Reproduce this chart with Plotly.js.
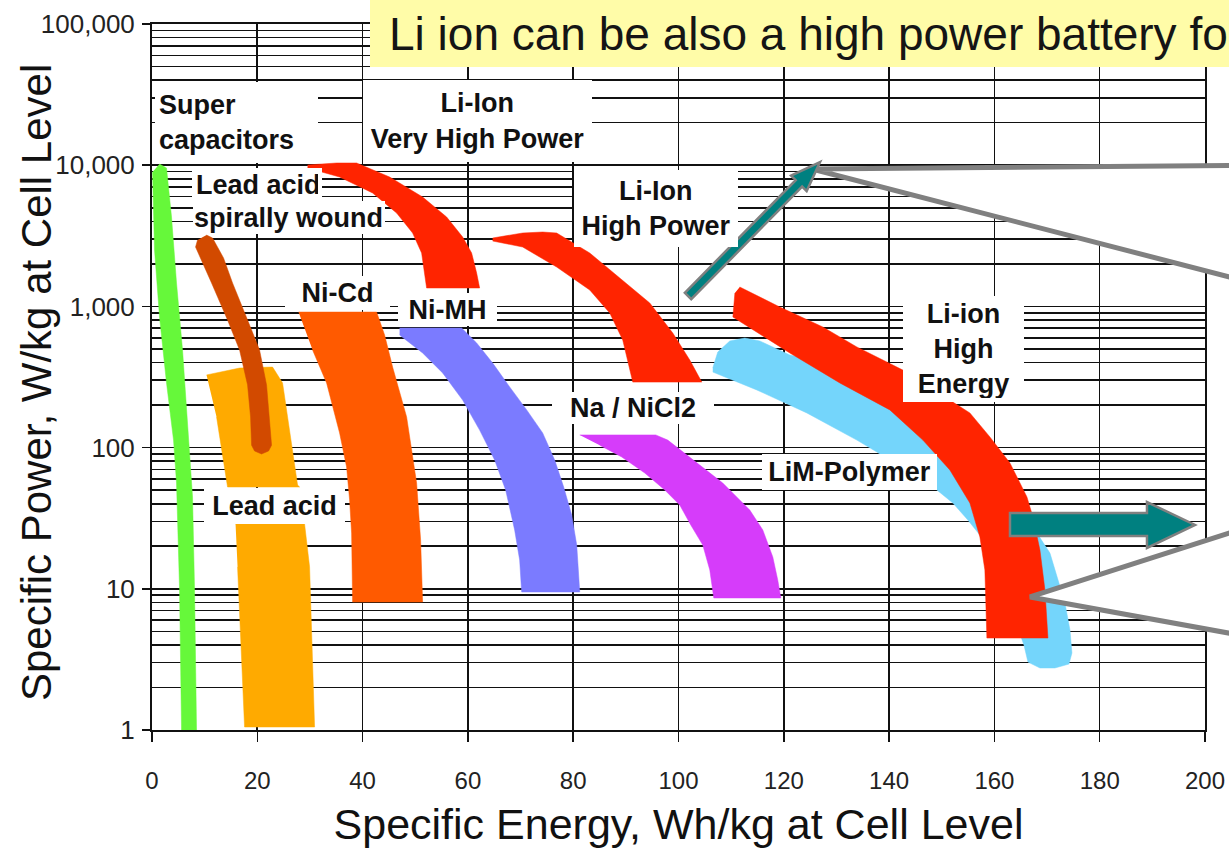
<!DOCTYPE html>
<html><head><meta charset="utf-8">
<script src="https://cdn.plot.ly/plotly-3.0.1.min.js"></script>
<style>html,body{margin:0;padding:0;background:#fff}#chart{width:1229px;height:848px}</style>
</head><body><div id="chart"></div>
<script>
// ---- Ragone regions (Specific Energy Wh/kg, Specific Power W/kg), outlines ----
const superCapX = [1.43, 2.76, 3.71, 4.66, 5.80, 7.13, 7.70, 8.08, 8.46, 5.61, 5.23, 4.66, 4.09, 2.76, 1.43, 0.48, 0.10];
const superCapY = [10197, 9555, 4297, 1465, 491, 96.2, 44.7, 9.97, 1, 1, 9.97, 56.1, 113, 287, 841, 2508, 8949];

const leadAcidX = [10.36, 16.63, 22.90, 24.80, 25.75, 27.65, 28.03, 14.35, 12.26, null, 15.87, 28.98, 29.93, 30.88, 17.58, 16.25];
const leadAcidY = [327, 366, 372, 287, 165, 54.3, 52.6, 52.6, 165, null, 28.8, 28.8, 14.3, 1.05, 1.05, 14.3];

const leadSpiralX = [10.36, 11.50, 13.59, 15.30, 18.15, 20.43, 21.76, 22.33, 22.71, 22.14, 20.81, 19.48, 18.91, 18.72, 18.15, 16.63, 14.35, 11.31, 9.41, 8.27, 8.65];
const leadSpiralY = [3204, 3051, 2202, 1465, 801, 491, 278, 165, 104, 94.6, 90.1, 94.6, 104, 165, 278, 491, 801, 1465, 2131, 2634, 2953];

const niCdX = [27.84, 42.66, 44.18, 45.70, 48.36, 50.26, 51.02, 51.40, 38.10, 37.91, 37.53, 36.96, 35.63, 33.16, 30.50];
const niCdY = [912, 912, 627, 372, 165, 56.1, 22.2, 8.06, 8.06, 24.8, 42.6, 72.9, 127, 287, 491];

const niMhX = [47.03, 58.81, 61.66, 64.70, 67.93, 71.16, 74.20, 76.48, 78.19, 79.71, 80.67, 81.24, 70.21, 69.83, 68.88, 67.17, 65.08, 62.23, 59.00, 55.20, 51.40, 47.03];
const niMhY = [703, 703, 551, 397, 269, 185, 127, 81.7, 52.6, 33.3, 20.4, 9.49, 9.49, 16.0, 26.1, 50.1, 81.7, 133, 217, 338, 468, 627];

const naNiCl2X = [81.24, 95.68, 97.96, 102.14, 108.41, 113.54, 116.01, 117.91, 118.86, 119.43, 106.70, 105.94, 104.61, 102.33, 100.24, 97.39, 93.59, 89.22, 85.04];
const naNiCl2Y = [123, 123, 113, 85.8, 56.1, 36.1, 26.1, 16.8, 11.5, 8.61, 8.61, 13.6, 20.4, 28.3, 39.2, 50.1, 66.1, 85.8, 104];

const limPolyX = [106.51, 107.46, 109.74, 112.59, 115.44, 121.14, 134.44, 143.94, 153.44, 161.05, 165.80, 168.08, 170.55, 172.07, 173.40, 174.35, 174.73, 174.16, 171.50, 168.65, 166.37, 165.61, 163.90, 162.00, 159.71, 157.24, 154.96, 152.11, 149.07, 142.99, 137.67, 133.87, 124.37, 114.87, 106.51];
const limPolyY = [366, 475, 569, 597, 569, 453, 354, 236, 133, 69.4, 39.2, 24.8, 17.9, 11.5, 7.93, 5.11, 3.51, 2.93, 2.75, 2.75, 3.03, 4.00, 6.01, 9.81, 16.0, 24.0, 30.7, 40.5, 50.1, 69.4, 93.1, 113, 176, 256, 343];

const liVhpX = [29.55, 35.06, 38.86, 45.13, 51.40, 55.96, 59.00, 60.71, 61.66, 62.23, 52.16, 51.78, 51.21, 49.50, 46.46, 41.90, 35.63, 29.55];
const liVhpY = [10032, 10367, 10367, 8249, 5953, 4297, 3101, 2389, 1724, 1350, 1350, 1724, 2389, 3310, 4586, 6356, 8249, 9555];

const liHpX = [64.70, 70.40, 74.20, 76.86, 83.14, 89.41, 94.54, 98.91, 102.14, 104.42, 91.31, 89.41, 86.94, 83.14, 76.86, 70.40, 64.70];
const liHpY = [3051, 3310, 3364, 3310, 2389, 1538, 1057, 648, 417, 291, 291, 578, 898, 1307, 1901, 2634, 2905];

const liHeX = [111.64, 119.24, 127.41, 133.87, 142.61, 147.74, 152.11, 155.34, 159.14, 162.95, 166.18, 167.32, 168.65, 169.60, 170.17, 158.57, 158.19, 157.24, 155.34, 151.54, 146.41, 140.14, 130.64, 121.14, 110.33, 110.71];
const liHeY = [1372, 990, 715, 516, 354, 278, 210, 176, 119, 77.8, 44.7, 32.2, 18.8, 9.81, 4.48, 4.48, 13.6, 23.3, 40.5, 69.4, 113, 185, 287, 468, 841, 1244];

// ---- axis ticks ----
const xTicks = [0, 20, 40, 60, 80, 100, 120, 140, 160, 180, 200];
const yTickVals = [1, 10, 100, 1000, 10000, 100000];
const yTickText = ['1', '10', '100', '1,000', '10,000', '100,000'];

// ---- labels: text, x (Wh/kg), y (W/kg) ----
const labelText = ['Super<br>capacitors', 'Lead acid', 'spirally wound', 'Li-Ion<br>Very High Power', 'Li-Ion<br>High Power',
  'Ni-Cd', 'Ni-MH', 'Na / NiCl2', 'LiM-Polymer', 'Li-ion<br>High<br>Energy', 'Lead acid'];
const labelX = [16.05, 19.94, 26.02, 61.76, 95.68, 35.15, 56.06, 91.31, 132.45, 154.11, 23.18];
const labelY = [20050, 7242, 4263, 20560, 4930, 1245, 951, 190.5, 67.1, 499, 38.5];

const titleText = 'Li ion can be also a high power battery fo';
const xTitle = 'Specific Energy, Wh/kg at Cell Level';
const yTitle = 'Specific Power, W/kg at Cell Level';

const FONT = 'Liberation Sans, Arial, sans-serif';
const RED = '#ff2400';

function region(x, y, color) {
  return {x: x, y: y, type: 'scatter', mode: 'lines', fill: 'toself', fillcolor: color,
    line: {color: color, width: 0.5}, hoverinfo: 'skip', showlegend: false};
}

const traces = [
  region(leadAcidX, leadAcidY, '#ffaa00'),
  region(leadSpiralX, leadSpiralY, '#d24a00'),
  region(superCapX, superCapY, '#66f83a'),
  region(niCdX, niCdY, '#ff5a00'),
  region(niMhX, niMhY, '#7b7bff'),
  region(naNiCl2X, naNiCl2Y, '#d63cfa'),
  region(limPolyX, limPolyY, '#74d5fb'),
  region(liVhpX, liVhpY, RED),
  region(liHpX, liHpY, RED),
  region(liHeX, liHeY, RED)
];

// plot-box pixel geometry (for decorative call-out shapes)
const PL = 152, PR = 1205, PT = 24, PB = 730;
const px = v => ((v - PL) / (PR - PL));
const py = v => ((PB - v) / (PB - PT));
const path = pts => 'M' + pts.map(p => px(p[0]).toFixed(4) + ',' + py(p[1]).toFixed(4)).join('L') + 'Z';

// label boxes (white, covering grid lines), sizes in px
const boxW = [155, 122, 190, 221, 156, 97, 91, 154, 167, 113, 133];
const boxH = [73, 25, 31, 74, 69, 26, 25, 24, 28, 98, 28];
const boxPad = [4, 4, 1, 4, 4, 4, 4, 4, 4, 4, 4];
const boxAlign = ['left', 'left', 'left', 'center', 'center', 'center', 'center', 'center', 'center', 'center', 'center'];

const annotations = labelText.map((t, i) => ({
  text: '<b>' + t + '</b>', x: labelX[i], y: Math.log10(labelY[i]), xref: 'x', yref: 'y',
  showarrow: false, bgcolor: '#ffffff', borderpad: boxPad[i], borderwidth: 0,
  width: boxW[i], height: boxH[i], align: boxAlign[i], valign: 'middle',
  font: {family: FONT, size: 27, color: '#111'}
}));

annotations.push({
  text: titleText, xref: 'paper', yref: 'paper', x: px(387), y: py(34), xanchor: 'left', yanchor: 'middle',
  showarrow: false, font: {family: FONT, size: 46, color: '#151515'}
});
annotations.push({
  text: yTitle, xref: 'paper', yref: 'paper', x: px(36), y: py(383), xanchor: 'center', yanchor: 'middle',
  textangle: -90, showarrow: false, font: {family: FONT, size: 42, color: '#111'}
});

const shapes = [
  {type: 'rect', xref: 'paper', yref: 'paper', x0: px(370), x1: px(1260), y0: py(67), y1: py(-5),
    fillcolor: '#fffca8', line: {width: 0}, layer: 'above'},
  {type: 'path', xref: 'paper', yref: 'paper', path: path([[812, 169], [1245, 165.5], [1245, 281]]),
    fillcolor: '#ffffff', line: {color: '#808080', width: 5}, layer: 'above'},
  {type: 'path', xref: 'paper', yref: 'paper', path: path([[1030, 597], [1245, 528], [1245, 636]]),
    fillcolor: '#ffffff', line: {color: '#808080', width: 5}, layer: 'above'},
  {type: 'path', xref: 'paper', yref: 'paper',
    path: path([[684.8, 292.8], [795.7, 180.2], [791.1, 175.7], [820, 162], [806.7, 191.1], [802.1, 186.6], [691.2, 299.2]]),
    fillcolor: '#008080', line: {color: '#808080', width: 2.5}, layer: 'above'},
  {type: 'path', xref: 'paper', yref: 'paper',
    path: path([[1010, 513], [1147, 513], [1147, 502], [1195, 525], [1147, 548], [1147, 536], [1010, 536]]),
    fillcolor: '#008080', line: {color: '#808080', width: 2.5}, layer: 'above'}
];

const layout = {
  width: 1229, height: 848,
  margin: {l: PL, r: 1229 - PR, t: PT, b: 848 - PB},
  paper_bgcolor: '#ffffff', plot_bgcolor: '#ffffff',
  showlegend: false, hovermode: false,
  font: {family: FONT, color: '#111'},
  xaxis: {
    range: [0, 200], tickvals: xTicks, ticks: 'outside', ticklen: 10, tickwidth: 1.5, tickcolor: '#111',
    showgrid: true, gridcolor: '#111', gridwidth: 1.6, zeroline: false,
    showline: true, linecolor: '#111', linewidth: 2, mirror: true,
    tickfont: {family: FONT, size: 24, color: '#222'}, ticklabelstandoff: 18,
    title: {text: xTitle, font: {family: FONT, size: 43, color: '#111'}, standoff: 17}
  },
  yaxis: {
    type: 'log', range: [0, 5], tickvals: yTickVals, ticktext: yTickText,
    ticks: 'outside', ticklen: 8, tickwidth: 1.5, tickcolor: '#111',
    showgrid: true, gridcolor: '#111', gridwidth: 1.6, zeroline: false,
    minor: {dtick: 'D1', showgrid: true, gridcolor: '#111', gridwidth: 1.6, ticks: ''},
    showline: true, linecolor: '#111', linewidth: 2, mirror: true,
    tickfont: {family: FONT, size: 26, color: '#222'}, ticklabelstandoff: 2
  },
  annotations: annotations,
  shapes: shapes
};

Plotly.newPlot('chart', traces, layout, {displayModeBar: false, staticPlot: true});
</script>
</body></html>
